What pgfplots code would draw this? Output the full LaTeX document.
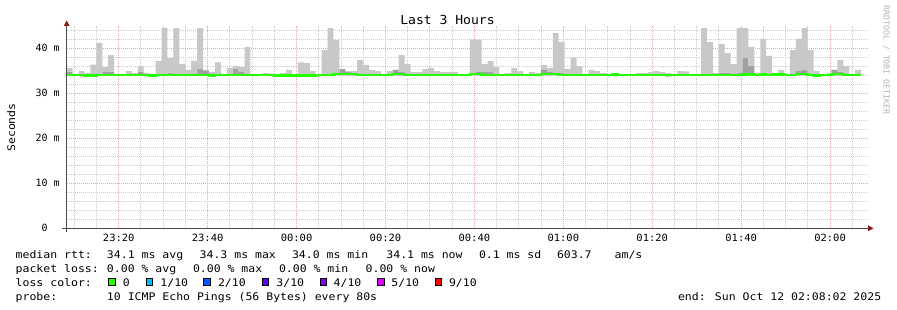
\documentclass[border=0pt]{standalone}
\usepackage{fontspec}
\usepackage{pgfplots}
\pgfplotsset{compat=1.18}
\usepackage{pgfplotstable}
\usetikzlibrary{arrows.meta}
\newfontfamily\rrdmono[FakeStretch=1.1]{DejaVu Sans Mono}
\newfontfamily\rrdtick[FakeStretch=1.05]{DejaVu Sans Mono}
\newfontfamily\rrdplain{DejaVu Sans Mono}
\newcommand\legfont{\rrdmono\fontsize{10.5}{12}\selectfont}
\definecolor{smokelt}{HTML}{C8C8C8}
\definecolor{smokedk}{HTML}{A0A0A0}
\definecolor{loss0}{HTML}{26FF00}
\definecolor{loss1}{HTML}{00B8FF}
\definecolor{loss2}{HTML}{0059FF}
\definecolor{loss3}{HTML}{5E00FF}
\definecolor{loss4}{HTML}{7E00FF}
\definecolor{loss5}{HTML}{DD00FF}
\definecolor{loss9}{HTML}{FF0000}
\definecolor{mgrid}{HTML}{F4A4A4}
\definecolor{mingrid}{HTML}{CDCDCD}
\definecolor{arrowred}{HTML}{8B1A1A}
\definecolor{credit}{HTML}{B4B4B4}

% t = minutes relative to 00:00; lo/dk/hi = smoke band (ms); med = median rtt (ms)
\pgfplotstableread{
t lo dk hi med
-51.70 34.0 34.8 35.6 34.1
-50.37 34.0 34.0 34.1 34.1
-49.03 34.0 34.0 34.95 34.1
-47.70 34.0 34.0 34.5 33.95
-46.37 34.0 34.0 36.4 33.95
-45.03 34.0 34.0 41.2 34.1
-43.70 34.0 34.9 35.8 34.1
-42.37 34.0 34.8 38.5 34.1
-41.03 34.0 34.0 34.1 34.1
-39.70 34.0 34.0 34.1 34.1
-38.37 34.0 34.0 34.95 34.1
-37.03 34.0 34.0 34.5 34.1
-35.70 34.0 34.8 36.0 34.1
-34.37 34.0 34.0 34.5 34.1
-33.03 34.0 34.0 34.1 33.95
-31.70 34.0 34.0 37.2 34.1
-30.37 34.0 34.0 44.5 34.1
-29.03 34.0 34.6 37.8 34.1
-27.70 34.0 34.0 44.5 34.1
-26.37 34.0 34.0 36.5 34.1
-25.03 34.0 34.0 35.2 34.1
-23.70 34.0 34.0 37.2 34.1
-22.37 33.8 35.4 44.5 34.1
-21.03 34.0 35.0 35.2 34.1
-19.70 34.0 34.0 34.7 33.95
-18.37 34.0 34.0 36.9 34.1
-17.03 34.0 34.0 34.1 34.1
-15.70 34.0 34.0 35.6 34.1
-14.37 34.0 35.4 36.05 34.1
-13.03 34.0 34.9 35.8 34.1
-11.70 34.0 34.0 40.3 34.1
-10.37 34.0 34.0 34.1 34.1
-9.03 34.0 34.0 34.1 34.1
-7.70 34.0 34.0 34.5 34.1
-6.37 34.0 34.0 34.4 34.1
-5.03 34.0 34.0 34.1 33.95
-3.70 34.0 34.0 34.5 33.95
-2.37 34.0 34.0 35.2 33.95
-1.03 34.0 34.0 34.1 33.95
0.30 34.0 34.0 36.9 33.95
1.63 34.0 34.0 36.7 33.95
2.97 34.0 34.0 34.95 33.95
4.30 34.0 34.0 34.1 34.1
5.63 34.0 34.0 39.6 34.1
6.97 34.0 34.0 44.5 34.1
8.30 34.0 34.0 41.8 34.25
9.63 34.0 35.4 35.4 34.25
10.97 34.0 34.9 34.95 34.25
12.30 34.0 34.0 34.95 34.25
13.63 34.0 34.0 37.4 34.1
14.97 34.0 34.0 36.3 34.1
16.30 34.0 34.0 35.2 34.1
17.63 34.0 34.0 34.95 34.1
18.97 34.0 34.0 34.1 34.1
20.30 34.0 34.0 34.95 34.1
21.63 34.0 35.2 35.2 34.25
22.97 34.0 34.8 38.5 34.25
24.30 34.0 34.0 36.5 34.1
25.63 34.0 34.0 34.7 34.1
26.97 34.0 34.0 34.7 34.1
28.30 34.0 34.0 35.4 34.1
29.63 34.0 34.0 35.6 34.1
30.97 34.0 34.0 34.95 34.1
32.30 34.0 34.0 34.7 34.1
33.63 34.0 34.0 34.7 34.1
34.97 34.0 34.0 34.7 34.1
36.30 34.0 34.0 34.1 34.1
37.63 34.0 34.0 34.1 34.1
38.97 34.0 34.0 41.9 34.25
40.30 34.0 34.9 41.9 34.25
41.63 34.0 34.7 36.5 34.1
42.97 34.0 34.7 37.2 34.1
44.30 34.0 34.0 35.8 34.1
45.63 34.0 34.0 34.1 34.1
46.97 34.0 34.0 34.5 34.1
48.30 34.0 34.0 35.6 34.1
49.63 34.0 34.0 34.95 34.1
50.97 34.0 34.0 34.1 34.1
52.30 34.0 34.0 34.7 34.1
53.63 34.0 34.0 34.5 34.1
54.97 34.0 35.3 36.3 34.25
56.30 34.0 34.9 35.6 34.25
57.63 34.0 34.0 43.4 34.25
58.97 34.0 34.6 41.4 34.1
60.30 34.0 34.0 35.4 34.1
61.63 34.0 34.0 38.0 34.1
62.97 34.0 34.0 36.05 34.1
64.30 34.0 34.0 34.1 34.1
65.63 34.0 34.0 35.2 34.1
66.97 34.0 34.0 34.95 34.1
68.30 34.0 34.0 34.5 34.1
69.63 34.0 34.0 34.1 34.1
70.97 34.0 34.0 34.5 34.2
72.30 34.0 34.0 34.1 34.1
73.63 34.0 34.0 34.1 34.1
74.97 34.0 34.0 34.1 34.1
76.30 34.0 34.0 34.5 34.1
77.63 34.0 34.0 34.5 34.1
78.97 34.0 34.0 34.7 34.1
80.30 34.0 34.0 34.95 34.1
81.63 34.0 34.0 34.7 34.1
82.97 33.7 34.0 34.5 34.1
84.30 34.0 34.0 34.1 34.1
85.63 34.0 34.0 34.95 34.1
86.97 34.0 34.0 34.9 34.1
88.30 34.0 34.0 34.1 34.1
89.63 34.0 34.0 34.1 34.1
90.97 34.0 34.0 44.5 34.1
92.30 34.0 34.0 41.4 34.1
93.63 34.0 34.0 34.5 34.1
94.97 34.0 34.6 40.96 34.1
96.30 34.0 34.6 38.95 34.1
97.63 34.0 34.0 36.5 34.1
98.97 34.0 34.5 44.5 34.1
100.30 34.0 37.8 44.5 34.2
101.63 34.0 36.05 40.3 34.2
102.97 34.0 34.0 34.1 34.1
104.30 34.0 34.0 42.07 34.2
105.63 34.0 34.0 38.3 34.1
106.97 34.0 34.0 34.1 34.2
108.30 34.0 34.0 35.2 34.2
109.63 34.0 34.0 34.1 34.1
110.97 34.0 34.0 39.6 34.1
112.30 34.0 35.0 42.07 34.25
113.63 34.0 35.2 44.5 34.25
114.97 34.0 34.0 39.6 34.1
116.30 34.0 34.0 34.95 34.0
117.63 34.0 34.0 34.1 34.1
118.97 34.0 34.0 34.1 34.1
120.30 34.0 35.2 35.2 34.25
121.63 34.0 34.8 37.4 34.25
122.97 34.0 34.0 36.05 34.1
124.30 34.0 34.0 34.1 34.1
125.63 34.0 34.0 35.2 34.1
126.97 34.0 34.0 35.2 34.1
}\smoke

\begin{document}
\begin{tikzpicture}
\useasboundingbox (0bp,0bp) rectangle (897bp,310bp);
\fill[white] (0bp,0bp) rectangle (897bp,310bp);
\begin{axis}[
  at={(66.7bp,81.7bp)}, anchor=south west,
  scale only axis, width=801.6bp, height=202.5bp,
  xmin=-51.7, xmax=128.6, ymin=0, ymax=45,
  axis line style={draw=none},
  no markers,
  xtick={-40,-20,0,20,40,60,80,100,120},
  xticklabels={23:20,23:40,00:00,00:20,00:40,01:00,01:20,01:40,02:00},
  minor xtick={-50,-45,-35,-30,-25,-15,-10,-5,5,10,15,25,30,35,45,50,55,65,70,75,85,90,95,105,110,115,125},
  ytick={0,10,20,30,40},
  yticklabels={0\phantom{0m},10 m,20 m,30 m,40 m},
  minor ytick={2,4,6,8,12,14,16,18,22,24,26,28,32,34,36,38,42,44},
  grid=both,
  major grid style={draw=mgrid, line width=1bp, dash pattern=on 1bp off 1bp},
  minor grid style={draw=mingrid, line width=1bp, dash pattern=on 1bp off 1bp},
  major tick length=0pt, minor tick length=0pt,
  xticklabel style={font=\rrdtick\fontsize{10}{12}\selectfont, anchor=base, inner sep=0pt, yshift=-13.4bp},
  yticklabel style={font=\rrdplain\fontsize{10}{12}\selectfont, anchor=east, inner sep=0pt, xshift=-6.8bp},
  clip=false,
]
\addplot[const plot, draw=none, stack plots=y, forget plot] table[x=t,y=lo]{\smoke};
\addplot[const plot, draw=none, fill=smokedk, stack plots=y, forget plot] table[x=t,y expr=\thisrow{dk}-\thisrow{lo}]{\smoke} \closedcycle;
\addplot[const plot, draw=none, fill=smokelt, stack plots=y, forget plot] table[x=t,y expr=\thisrow{hi}-\thisrow{dk}]{\smoke} \closedcycle;
\addplot[const plot, stack plots=false, draw=loss0, line width=2.6bp] table[x=t,y=med]{\smoke};
\end{axis}
\begin{scope}[x=1bp,y=1bp]
% axis lines with arrow heads
\draw[black!70, line width=1bp] (66.7,78) -- (66.7,285);
\fill[arrowred] (63.7,284) -- (69.7,284) -- (66.7,289.5) -- cycle;
\draw[black!70, line width=1bp] (62.3,81.7) -- (869,81.7);
\fill[arrowred] (868,78.7) -- (868,84.7) -- (873.5,81.7) -- cycle;
% title, axis label, credit
\node[anchor=base, inner sep=0pt, font=\rrdtick\fontsize{12.5}{14}\selectfont] at (447.5,286) {Last 3 Hours};
\node[anchor=base, inner sep=0pt, rotate=90, font=\legfont] at (15,182.5) {Seconds};
\node[anchor=base, inner sep=0pt, rotate=-90, text=credit, font=\rrdplain\fontsize{8.3}{10}\selectfont] at (883.5,250) {RRDTOOL / TOBI OETIKER};
% legend
\begin{scope}[every node/.style={anchor=base west, inner sep=0pt, font=\legfont}]
\node at (15.5,51.7) {median rtt:};
\node at (106.8,51.7) {34.1 ms avg};
\node at (199.5,51.7) {34.3 ms max};
\node at (291.8,51.7) {34.0 ms min};
\node at (386.2,51.7) {34.1 ms now};
\node at (478.8,51.7) {0.1 ms sd};
\node at (556.8,51.7) {603.7};
\node at (614.5,51.7) {am/s};
\node at (15.5,37.7) {packet loss:};
\node at (106.8,37.7) {0.00 \% avg};
\node at (192.8,37.7) {0.00 \% max};
\node at (278.8,37.7) {0.00 \% min};
\node at (365.5,37.7) {0.00 \% now};
\node at (15.5,23.7) {loss color:};
\node at (122.8,23.7) {0};
\node at (160.2,23.7) {1/10};
\node at (217.8,23.7) {2/10};
\node at (276.2,23.7) {3/10};
\node at (333.5,23.7) {4/10};
\node at (391.2,23.7) {5/10};
\node at (448.8,23.7) {9/10};
\node at (15.5,9.7) {probe:};
\node at (106.8,9.7) {10 ICMP Echo Pings (56 Bytes) every 80s};
\node at (677.8,9.7) {end: Sun Oct 12 02:08:02 2025};
\end{scope}
\foreach \bx/\c in {108.3/loss0,145.7/loss1,203.3/loss2,261.7/loss3,320/loss4,377.3/loss5,435/loss9}
  \draw[black, line width=1bp, fill=\c] (\bx+0.5,24.0) rectangle ++(6.2,7.4);
\end{scope}
\end{tikzpicture}
\end{document}
